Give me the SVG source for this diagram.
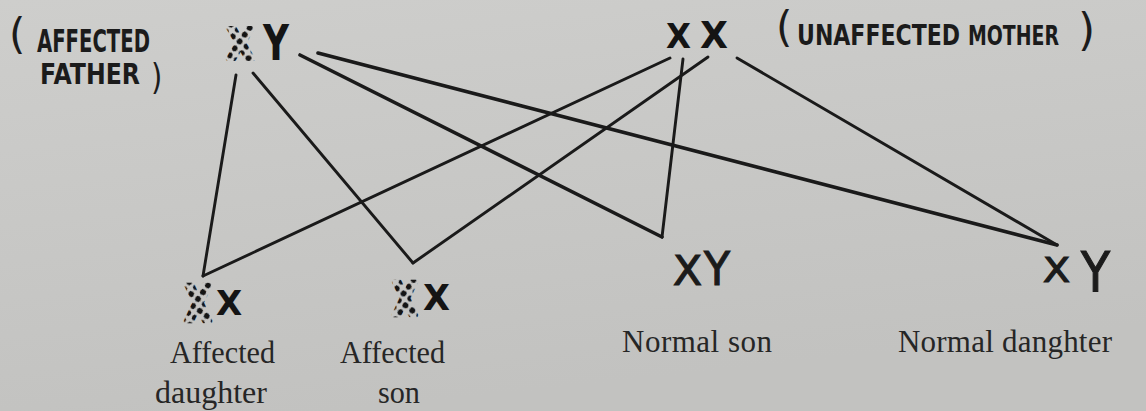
<svg xmlns="http://www.w3.org/2000/svg" width="1146" height="411" viewBox="0 0 1146 411">
  <defs>
    <linearGradient id="paper" x1="0" y1="0" x2="0.3" y2="1">
      <stop offset="0" stop-color="#cececc"/>
      <stop offset="1" stop-color="#c2c2c0"/>
    </linearGradient>
    <pattern id="dotsA" width="8.5" height="8.5" patternUnits="userSpaceOnUse" patternTransform="scale(1,0.69) rotate(36)">
      <circle cx="4.25" cy="4.25" r="2.8" fill="#141414"/>
    </pattern>
    <pattern id="dotsB" width="8.5" height="8.5" patternUnits="userSpaceOnUse" patternTransform="scale(1,0.833) rotate(36)">
      <circle cx="4.25" cy="4.25" r="2.8" fill="#141414"/>
    </pattern>
    <style>
      .hand { font-family: "DejaVu Sans", sans-serif; font-weight: bold; fill: #1b1b1b; }
      .p { font-family: "DejaVu Sans", sans-serif; font-weight: normal; fill: #1b1b1b; }
      .chr { font-family: "DejaVu Sans", sans-serif; fill: #1b1b1b; stroke: #1b1b1b; stroke-width: 1.2; }
      .chrb { font-family: "DejaVu Sans", sans-serif; font-weight: bold; fill: #141414; }
      .dot { font-family: "DejaVu Sans", sans-serif; font-weight: bold; stroke-width: 3.2; stroke-linejoin: round; }
      .cap { font-family: "Liberation Serif", serif; font-size: 31px; fill: #262626; }
      .conn line { stroke: #1a1a1a; stroke-width: 2.9; stroke-linecap: round; fill: none; }
      .conn line.thick { stroke-width: 3.6; }
    </style>
  </defs>

  <rect x="0" y="0" width="1146" height="411" fill="url(#paper)"/>

  <g id="connectors" class="conn">
    <line x1="236" y1="75" x2="203" y2="276"/>
    <line x1="670" y1="58" x2="203" y2="276"/>
    <line x1="253" y1="73" x2="413" y2="263"/>
    <line x1="708" y1="57" x2="413" y2="263"/>
    <line class="thick" x1="300" y1="55" x2="662" y2="237"/>
    <line x1="683" y1="59" x2="662" y2="237"/>
    <line class="thick" x1="318" y1="53" x2="1057" y2="245"/>
    <line x1="737" y1="58" x2="1057" y2="245"/>
  </g>

  <g id="father">
    <text class="p" x="9" y="49" font-size="42">(</text>
    <text class="hand" x="37" y="52" font-size="26" transform="matrix(1,0,0,1.25,0,-13)" textLength="113" lengthAdjust="spacingAndGlyphs">AFFECTED</text>
    <text class="hand" x="40" y="84" font-size="23" transform="matrix(1,0,0,1.2,0,-16.8)" textLength="100" lengthAdjust="spacingAndGlyphs">FATHER</text>
    <text class="p" x="151" y="89" font-size="29" transform="matrix(1,0,0,1.2,0,-17.8)">)</text>
    <text class="dot" x="227" y="59" font-size="35" fill="url(#dotsB)" stroke="url(#dotsB)" transform="matrix(1,0,0,1.2,0,-11.8)">X</text>
    <text class="chrb" x="263" y="60" font-size="49" textLength="26" lengthAdjust="spacingAndGlyphs">Y</text>
  </g>

  <g id="mother">
    <text class="chrb" x="666" y="48" font-size="33" textLength="25" lengthAdjust="spacingAndGlyphs">X</text>
    <text class="chrb" x="700" y="48" font-size="37" textLength="28" lengthAdjust="spacingAndGlyphs">X</text>
    <text class="p" x="776" y="42" font-size="42">(</text>
    <text class="hand" x="797" y="45" font-size="22" transform="matrix(1,0,0,1.25,0,-11.25)" textLength="163" lengthAdjust="spacingAndGlyphs">UNAFFECTED</text>
    <text class="hand" x="968" y="45" font-size="21" transform="matrix(1,0,0,1.3,0,-13.5)" textLength="91" lengthAdjust="spacingAndGlyphs">MOTHER</text>
    <text class="p" x="1078" y="45" font-size="44">)</text>
  </g>

  <g id="affected-daughter">
    <text class="dot" x="185" y="321" font-size="34" fill="url(#dotsA)" stroke="url(#dotsA)" transform="matrix(1,0,0,1.45,0,-144.45)">X</text>
    <text class="chrb" x="216" y="315" font-size="34">X</text>
    <text class="cap" x="170" y="363" textLength="105" lengthAdjust="spacingAndGlyphs">Affected</text>
    <text class="cap" x="155" y="403" textLength="112" lengthAdjust="spacingAndGlyphs">daughter</text>
  </g>

  <g id="affected-son">
    <text class="dot" x="393" y="315" font-size="31" fill="url(#dotsA)" stroke="url(#dotsA)" transform="matrix(1,0,0,1.45,0,-141.75)">X</text>
    <text class="chrb" x="423" y="310" font-size="36" textLength="27" lengthAdjust="spacingAndGlyphs">X</text>
    <text class="cap" x="340" y="363" textLength="105" lengthAdjust="spacingAndGlyphs">Affected</text>
    <text class="cap" x="378" y="403" textLength="42" lengthAdjust="spacingAndGlyphs">son</text>
  </g>

  <g id="normal-son">
    <text class="chr" x="673" y="285" font-size="41" textLength="29" lengthAdjust="spacingAndGlyphs">X</text>
    <text class="chr" x="704" y="285" font-size="47" textLength="26" lengthAdjust="spacingAndGlyphs">Y</text>
    <text class="cap" x="622" y="352" textLength="150" lengthAdjust="spacing">Normal son</text>
  </g>

  <g id="normal-daughter">
    <text class="chr" x="1043" y="282" font-size="34" textLength="27" lengthAdjust="spacingAndGlyphs">X</text>
    <text class="chr" x="1081" y="291" font-size="56" textLength="29" lengthAdjust="spacingAndGlyphs">Y</text>
    <text class="cap" x="898" y="352" textLength="214" lengthAdjust="spacing">Normal danghter</text>
  </g>
</svg>
